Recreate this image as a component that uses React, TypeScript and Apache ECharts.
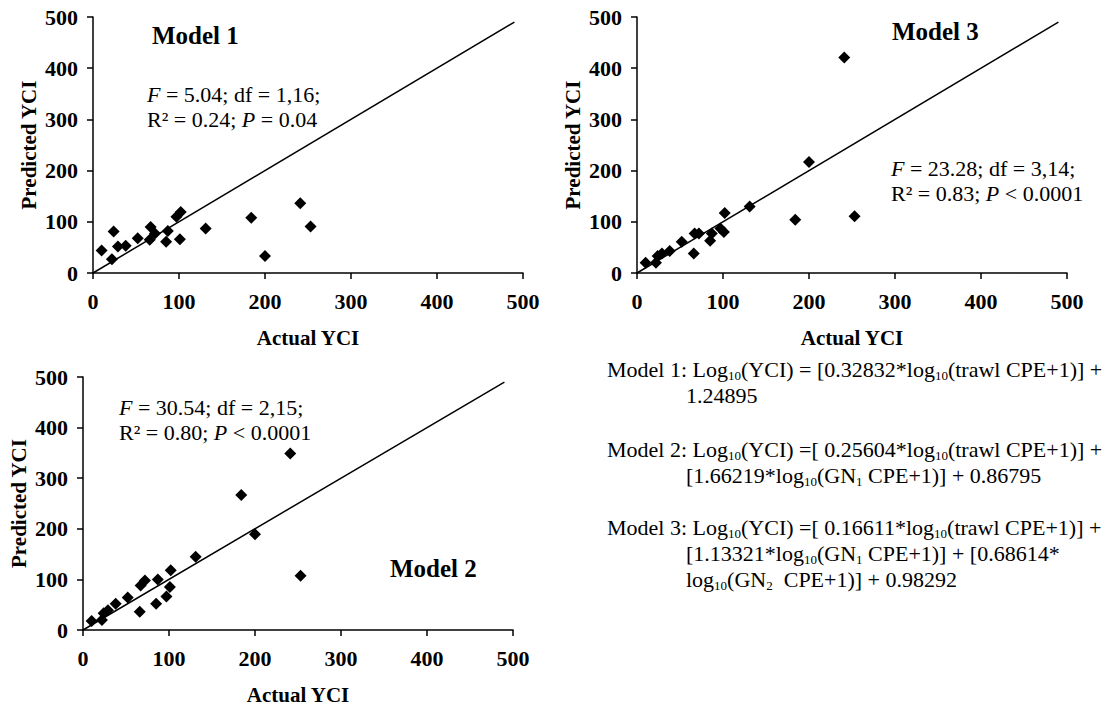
import React, { useEffect, useRef } from "react";
import * as echarts from "echarts";

// ---- data ----
const actualYCI = [10, 22, 24, 29, 38, 52, 66, 67, 72, 85, 87, 97, 101, 102, 131, 184, 200, 241, 253];
const model1Pred = [44, 27, 81, 52, 53, 68, 65, 90, 77, 61, 82, 110, 66, 119, 87, 108, 33, 136, 91];
const model2Pred = [18, 20, 33, 39, 52, 64, 36, 88, 98, 52, 100, 66, 85, 118, 145, 267, 189, 349, 107];
const model3Pred = [20, 20, 33, 38, 43, 61, 38, 77, 77, 63, 77, 87, 80, 117, 130, 104, 217, 421, 111];
const diagonalEnds = [0, 490];
const axisTicks = { min: 0, max: 500, interval: 100 };
const xAxisName = "Actual YCI";
const yAxisName = "Predicted YCI";
const modelTitles = ["Model 1", "Model 2", "Model 3"];
const statsLines = [
  ["{i|F}{n| = 5.04; df = 1,16;}", "{n|R² = 0.24; }{i|P}{n| = 0.04}"],
  ["{i|F}{n| = 30.54; df = 2,15;}", "{n|R² = 0.80; }{i|P}{n| < 0.0001}"],
  ["{i|F}{n| = 23.28; df = 3,14;}", "{n|R² = 0.83; }{i|P}{n| < 0.0001}"],
];
const equationLines = [
  ["{n|Model 1: Log}{s|10}{n|(YCI) = [0.32832*log}{s|10}{n|(trawl CPE+1)] +}", "{n|1.24895}"],
  [
    "{n|Model 2: Log}{s|10}{n|(YCI) =[ 0.25604*log}{s|10}{n|(trawl CPE+1)] +}",
    "{n|[1.66219*log}{s|10}{n|(GN}{s|1}{n| CPE+1)] + 0.86795}",
  ],
  [
    "{n|Model 3: Log}{s|10}{n|(YCI) =[ 0.16611*log}{s|10}{n|(trawl CPE+1)] +}",
    "{n|[1.13321*log}{s|10}{n|(GN}{s|1}{n| CPE+1)] + [0.68614*}",
    "{n|log}{s|10}{n|(GN}{s|2}{n|  CPE+1)] + 0.98292}",
  ],
];

// ---- layout ----
const FONT = "'Liberation Serif', 'Times New Roman', serif";
// panel order: Model 1, Model 2, Model 3
const grids = [
  { left: 93, top: 17, width: 430, height: 256 },
  { left: 83, top: 377, width: 430, height: 255 },
  { left: 637, top: 17, width: 430, height: 256 },
];
const titlePos = [
  [152, 35],
  [390, 568],
  [892, 31],
];
const statsPos = [
  [147, 94],
  [119, 407],
  [891, 168],
];
const statsLineGap = 25.5;
const eqStartX = 607;
const eqIndentX = 686;
const eqBlockY = [369, 449, 527];
const eqLineGap = 26;
const MAIN_FONT = `22px ${FONT}`;
const SUB_FONT = `13px ${FONT}`;
const SUB_DROP = 6;

let measureCtx: CanvasRenderingContext2D | null = null;
function measure(text: string, font: string): number {
  if (!measureCtx) measureCtx = document.createElement("canvas").getContext("2d");
  if (!measureCtx) return text.length * 10;
  measureCtx.font = font;
  return measureCtx.measureText(text).width;
}

function parseTokens(line: string): { k: string; t: string }[] {
  const out: { k: string; t: string }[] = [];
  const re = /\{(\w)\|([^}]*)\}/g;
  let m: RegExpExecArray | null;
  while ((m = re.exec(line))) out.push({ k: m[1], t: m[2] });
  return out;
}

function buildOption() {
  const preds = [model1Pred, model2Pred, model3Pred];
  const axisCommon = {
    type: "value",
    ...axisTicks,
    nameLocation: "middle",
    nameGap: 54,
    nameTextStyle: { fontFamily: FONT, fontWeight: "bold", fontSize: 21, color: "#000" },
    axisLine: { show: true, onZero: false, lineStyle: { color: "#000", width: 1.5 } },
    axisTick: { show: true, length: 6, lineStyle: { color: "#000", width: 1.5 } },
    splitLine: { show: false },
  };
  const xAxes = grids.map((_, i) => ({
    gridIndex: i,
    ...axisCommon,
    name: xAxisName,
    axisLabel: { fontFamily: FONT, fontWeight: "bold", fontSize: 22, color: "#000", margin: 17 },
  }));
  const yAxes = grids.map((_, i) => ({
    gridIndex: i,
    ...axisCommon,
    name: yAxisName,
    axisLabel: { fontFamily: FONT, fontWeight: "bold", fontSize: 22, color: "#000", margin: 15 },
  }));
  const series: any[] = [];
  preds.forEach((p, i) => {
    series.push({
      type: "line",
      xAxisIndex: i,
      yAxisIndex: i,
      data: [
        [diagonalEnds[0], diagonalEnds[0]],
        [diagonalEnds[1], diagonalEnds[1]],
      ],
      symbol: "none",
      lineStyle: { color: "#000", width: 1.5 },
      silent: true,
    });
    series.push({
      type: "scatter",
      xAxisIndex: i,
      yAxisIndex: i,
      data: actualYCI.map((a, k) => [a, p[k]]),
      symbol: "diamond",
      symbolSize: 12,
      itemStyle: { color: "#000", opacity: 1 },
    });
  });

  const statsRich = {
    n: { fontFamily: FONT, fontSize: 22, color: "#000", lineHeight: 23 },
    i: { fontFamily: FONT, fontSize: 22, fontStyle: "italic", color: "#000", lineHeight: 23 },
  };

  const graphic: any[] = [];
  modelTitles.forEach((t, i) => {
    graphic.push({
      type: "text",
      x: titlePos[i][0],
      y: titlePos[i][1],
      style: {
        text: t,
        font: `bold 25px ${FONT}`,
        fill: "#000",
        align: "left",
        verticalAlign: "middle",
      },
    });
  });
  statsLines.forEach((lines, i) => {
    lines.forEach((ln, k) => {
      graphic.push({
        type: "text",
        x: statsPos[i][0],
        y: statsPos[i][1] + k * statsLineGap,
        style: { text: ln, rich: statsRich, align: "left", verticalAlign: "middle", fill: "#000" },
      });
    });
  });
  equationLines.forEach((lines, i) => {
    lines.forEach((ln, k) => {
      let x = k === 0 ? eqStartX : eqIndentX;
      const y = eqBlockY[i] + k * eqLineGap;
      parseTokens(ln).forEach((tok) => {
        const isSub = tok.k === "s";
        const font = isSub ? SUB_FONT : MAIN_FONT;
        graphic.push({
          type: "text",
          x,
          y: isSub ? y + SUB_DROP : y,
          style: {
            text: tok.t,
            font,
            fill: "#000",
            align: "left",
            verticalAlign: "middle",
            lineHeight: isSub ? 11 : 22,
          },
        });
        x += measure(tok.t, font);
      });
    });
  });

  return {
    animation: false,
    backgroundColor: "#fff",
    grid: grids.map((g) => ({ ...g, containLabel: false })),
    xAxis: xAxes,
    yAxis: yAxes,
    series,
    graphic,
  };
}

export default function App() {
  const ref = useRef<HTMLDivElement>(null);
  useEffect(() => {
    if (!ref.current) return;
    const chart = echarts.init(ref.current, null, { renderer: "svg" });
    chart.setOption(buildOption() as any);
    return () => chart.dispose();
  }, []);
  return (
    <div
      ref={ref}
      style={{ position: "fixed", left: 0, top: 0, width: 1110, height: 706, background: "#fff" }}
    />
  );
}
